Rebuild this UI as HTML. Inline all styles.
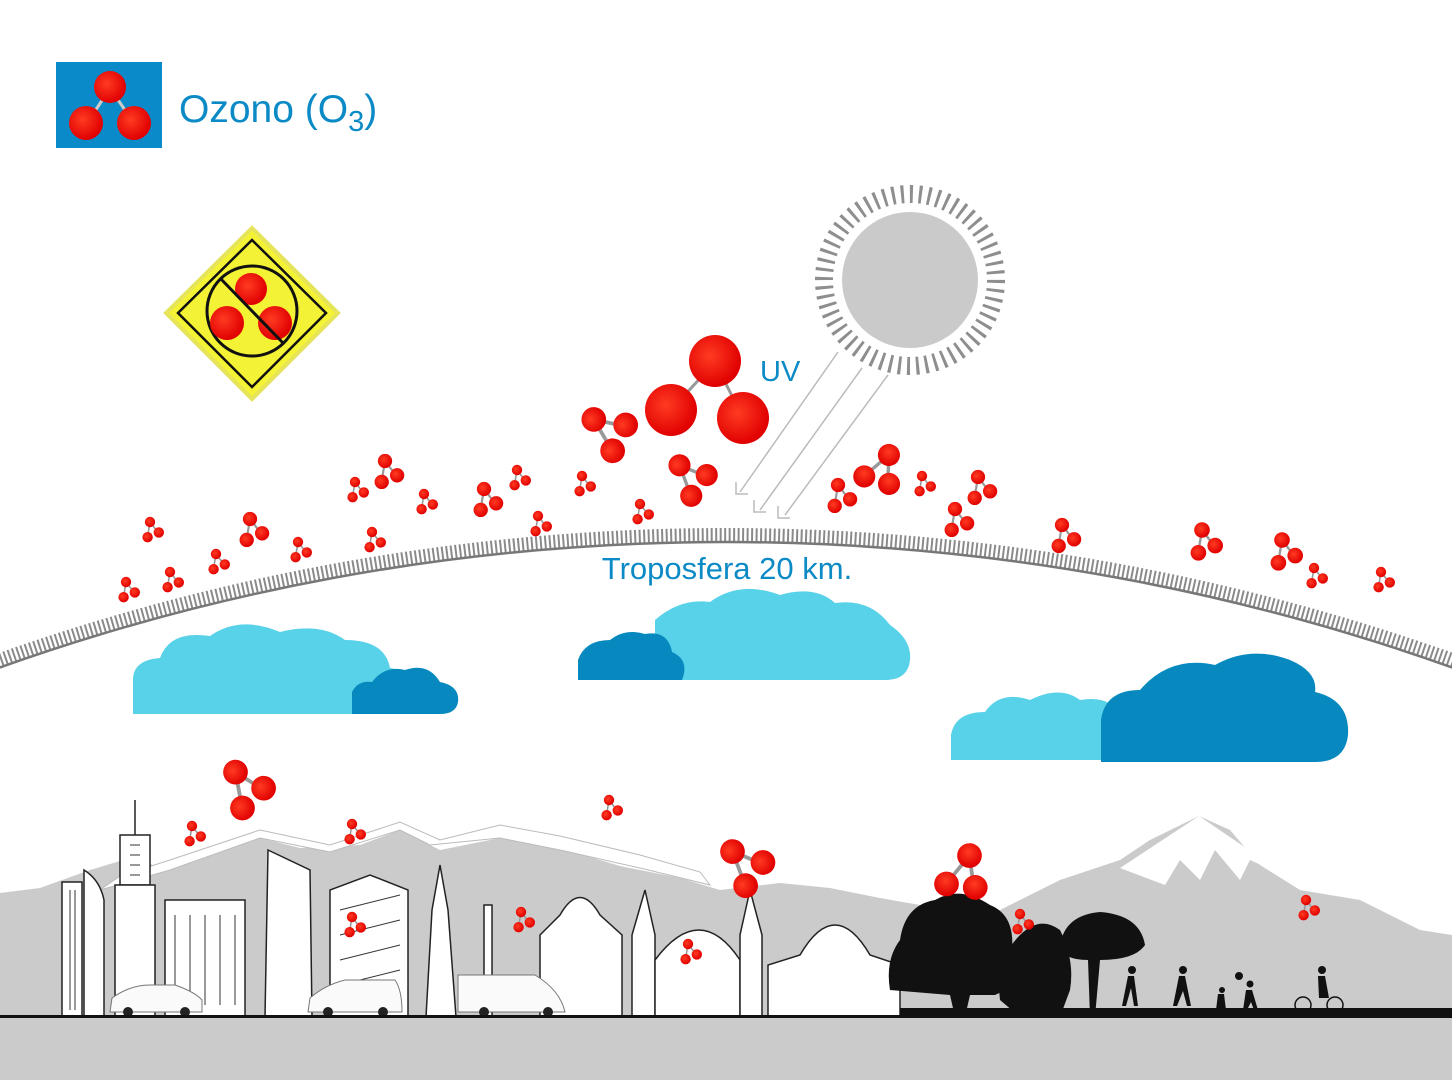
<!DOCTYPE html>
<html><head><meta charset="utf-8"><style>
html,body{margin:0;padding:0;background:#fff;width:1452px;height:1080px;overflow:hidden;}
svg{display:block}
text{font-family:"Liberation Sans","DejaVu Sans",sans-serif}
</style></head><body>
<svg width="1452" height="1080" viewBox="0 0 1452 1080" xmlns="http://www.w3.org/2000/svg">
<defs>
<radialGradient id="rg" cx="0.4" cy="0.4" r="0.6"><stop offset="0" stop-color="#ff3b22"/><stop offset="1" stop-color="#e00000"/></radialGradient>
<g id="m">
<line x1="0" y1="-10" x2="-3" y2="8" stroke="#999" stroke-width="2"/>
<line x1="0" y1="-10" x2="10" y2="3" stroke="#999" stroke-width="2"/>
<circle cx="0" cy="-10" r="6.5" fill="url(#rg)"/>
<circle cx="-3" cy="9" r="6.5" fill="url(#rg)"/>
<circle cx="11" cy="3" r="6.5" fill="url(#rg)"/>
</g>
</defs>

<!-- logo -->
<rect x="56" y="62" width="106" height="86" fill="#0a8ac8"/>
<line x1="110" y1="88" x2="88" y2="122" stroke="#ccc" stroke-width="3"/>
<line x1="110" y1="88" x2="133" y2="122" stroke="#ccc" stroke-width="3"/>
<circle cx="110" cy="87" r="16" fill="url(#rg)"/>
<circle cx="86" cy="123" r="17" fill="url(#rg)"/>
<circle cx="134" cy="123" r="17" fill="url(#rg)"/>
<text x="179" y="122" font-size="39" fill="#0b8ac6">Ozono (O<tspan font-size="29" dy="9">3</tspan><tspan dy="-9">)</tspan></text>

<!-- warning sign -->
<polygon points="252,228 338,313 252,399 166,313" fill="#f3f235" stroke="#e6e45a" stroke-width="4"/>
<polygon points="252,240 326,313 252,387 178,313" fill="none" stroke="#111" stroke-width="2.5"/>
<circle cx="252" cy="311" r="45" fill="none" stroke="#111" stroke-width="3"/>
<circle cx="251" cy="289" r="16" fill="url(#rg)"/>
<circle cx="227" cy="323" r="17" fill="url(#rg)"/>
<circle cx="275" cy="323" r="17" fill="url(#rg)"/>
<line x1="220" y1="278" x2="284" y2="344" stroke="#111" stroke-width="3"/>

<!-- sun -->
<circle cx="910" cy="280" r="68" fill="#cacaca"/>
<circle cx="910" cy="280" r="86" fill="none" stroke="#8e8e8e" stroke-width="18" stroke-dasharray="3 6"/>
<g fill="none" stroke="#bbb" stroke-width="1.5">
<path d="M838,352 L740,492"/>
<path d="M862,368 L760,510"/>
<path d="M888,375 L785,515"/>
<path d="M736,482 v12 h12 M754,500 v12 h12 M778,506 v12 h12"/>
</g>
<text x="760" y="381" font-size="29" fill="#0b8ac6">UV</text>

<!-- troposphere arc -->
<circle cx="726" cy="2706" r="2171" fill="none" stroke="#8a8a8a" stroke-width="14" stroke-dasharray="2 2.5"/>
<circle cx="726" cy="2706" r="2164" fill="none" stroke="#777" stroke-width="2.5"/>
<text x="727" y="579" font-size="31" fill="#0b8ac6" text-anchor="middle">Troposfera 20 km.</text>

<!-- clouds -->
<g fill="#58d2e8">
<path d="M133,714 L133,680 Q133,660 160,658 Q170,630 210,636 Q240,615 280,632 Q320,622 345,640 Q385,640 390,668 Q420,672 418,714 Z"/>
<path d="M655,680 L655,620 Q680,598 710,602 Q740,580 780,595 Q815,585 835,603 Q870,598 890,625 Q912,640 910,660 Q908,680 885,680 Z"/>
<path d="M951,760 L951,735 Q955,712 985,712 Q1000,690 1030,700 Q1060,685 1080,700 Q1110,695 1120,715 L1130,760 Z"/>
</g>
<g fill="#0789bf">
<path d="M352,714 L352,692 Q358,680 372,682 Q385,665 405,670 Q428,662 440,682 Q460,686 458,702 Q456,714 440,714 Z"/>
<path d="M578,680 L578,660 Q585,640 610,640 Q625,628 645,634 Q668,630 672,652 Q690,660 682,680 Z"/>
<path d="M1101,762 L1101,720 Q1105,690 1140,690 Q1170,655 1215,665 Q1250,645 1290,660 Q1318,672 1315,692 Q1350,700 1348,735 Q1345,762 1315,762 Z"/>
</g>

<!-- mountains -->
<path d="M0,893 L40,888 L90,870 L130,858 L170,870 L200,850 L260,838 L300,848 L360,845 L400,830 L440,850 L500,838 L560,848 L620,866 L680,878 L720,890 L780,883 L830,888 L880,898 L920,905 L1000,910 L1060,880 L1120,860 L1150,840 L1199,816 L1230,830 L1260,865 L1300,890 L1360,900 L1420,930 L1452,935 L1452,1017 L0,1017 Z" fill="#cbcbcb"/>
<path d="M1120,868 L1199,816 L1290,878 L1250,860 L1240,880 L1215,850 L1200,880 L1180,860 L1165,885 Z" fill="#fff"/>
<path d="M100,890 L170,870 L260,838 L330,852 L400,830 L430,845 L500,838 L560,850 L640,868 L710,885 L700,872 L640,855 L560,836 L500,825 L440,840 L400,822 L330,845 L260,830 L170,860 L120,876 Z" fill="#fff" stroke="#bbb" stroke-width="1"/>

<!-- buildings -->
<g fill="#fff" stroke="#222" stroke-width="1.5">
<rect x="62" y="882" width="20" height="135"/>
<path d="M84,1017 L84,870 Q100,880 104,900 L104,1017"/>
<rect x="120" y="835" width="30" height="50"/>
<rect x="115" y="885" width="40" height="132"/>
<line x1="135" y1="800" x2="135" y2="835"/>
<rect x="165" y="900" width="80" height="117"/>
<path d="M265,1017 L268,850 L310,870 L312,1017 Z"/>
<path d="M330,1017 L330,890 L370,875 L408,890 L408,1017 Z"/>
<path d="M426,1017 L432,910 L440,865 L448,910 L456,1017 Z"/>
<rect x="484" y="905" width="8" height="112"/>
<path d="M540,1017 L540,935 L560,915 Q580,880 600,915 L622,935 L622,1017 Z"/>
<path d="M632,1017 L632,935 L645,890 L655,935 L655,1017 Z"/>
<path d="M655,1017 L655,960 Q700,900 740,960 L740,1017 Z"/>
<path d="M740,1017 L740,935 L750,890 L762,935 L762,1017 Z"/>
<path d="M768,1017 L768,965 L800,955 Q835,895 870,955 L900,965 L900,1017 Z"/>
</g>
<g stroke="#333" stroke-width="1" fill="none">
<path d="M130,845 h10 M130,855 h10 M130,865 h10 M130,875 h10 M175,915 v90 M190,915 v90 M205,915 v90 M220,915 v90 M235,915 v90 M70,890 v120 M75,890 v120 M340,910 L400,895 M340,935 L400,920 M340,960 L400,945 M340,985 L400,970"/>
</g>
<!-- vehicles -->
<g fill="#fafafa" stroke="#777" stroke-width="1">
<path d="M110,1012 L112,998 Q130,985 150,985 L175,985 Q195,992 202,1000 L202,1012 Z"/>
<path d="M308,1012 L310,998 Q325,985 345,980 L395,980 Q402,990 402,1012 Z"/>
<path d="M458,1012 L458,975 L535,975 Q560,990 565,1012 Z"/>
</g>
<g fill="#222">
<circle cx="128" cy="1012" r="5"/><circle cx="185" cy="1012" r="5"/>
<circle cx="328" cy="1012" r="5"/><circle cx="383" cy="1012" r="5"/>
<circle cx="484" cy="1012" r="5"/><circle cx="548" cy="1012" r="5"/>
</g>
<!-- trees -->
<g fill="#111">
<path d="M890,990 Q885,960 900,940 Q905,905 935,900 Q960,885 990,905 Q1015,915 1012,950 Q1020,985 995,995 L970,995 L965,1017 L955,1017 L950,995 Z"/>
<path d="M1000,1000 Q995,960 1020,935 Q1040,915 1060,930 Q1075,960 1070,990 L1060,1017 L1020,1017 Z"/>
<path d="M1060,945 Q1065,915 1100,912 Q1140,915 1145,945 Q1135,960 1100,960 L1095,1017 L1090,1017 L1088,960 Q1062,960 1060,945 Z"/>
<rect x="900" y="1008" width="552" height="9"/>
<circle cx="1132" cy="970" r="4"/><path d="M1128,976 l6,0 l4,30 l-4,0 l-3,-18 l-5,18 l-4,0 Z"/>
<circle cx="1183" cy="970" r="4"/><path d="M1179,976 l6,0 l6,30 l-4,0 l-4,-15 l-6,15 l-4,0 Z"/>
<circle cx="1222" cy="990" r="3"/><path d="M1218,994 l6,0 l2,16 l-10,0 Z"/>
<circle cx="1239" cy="976" r="4"/><circle cx="1250" cy="984" r="3.5"/><path d="M1246,990 l6,0 l6,20 l-4,0 l-3,-8 l-4,8 l-4,0 Z"/>
<circle cx="1322" cy="970" r="4"/><path d="M1318,976 l7,0 l4,22 l-10,0 Z"/>
</g>
<g fill="none" stroke="#111" stroke-width="1.5"><circle cx="1303" cy="1005" r="8"/><circle cx="1335" cy="1005" r="8"/></g>

<!-- ground -->
<rect x="0" y="1017" width="1452" height="63" fill="#cbcbcb"/>
<rect x="0" y="1015" width="1452" height="3" fill="#111"/>

<!-- big molecule -->
<line x1="715" y1="362" x2="671" y2="410" stroke="#999" stroke-width="3"/>
<line x1="715" y1="362" x2="743" y2="418" stroke="#999" stroke-width="3"/>
<circle cx="715" cy="361" r="26" fill="url(#rg)"/>
<circle cx="671" cy="410" r="26" fill="url(#rg)"/>
<circle cx="743" cy="418" r="26" fill="url(#rg)"/>

<!-- molecules -->
<use href="#m" transform="translate(606,434) scale(1.9) rotate(-40)"/>
<use href="#m" transform="translate(688,480) scale(1.7) rotate(-30)"/>
<use href="#m" transform="translate(878,468) scale(1.7) rotate(40)"/>
<use href="#m" transform="translate(242,790) scale(1.9) rotate(-20)"/>
<use href="#m" transform="translate(742,868) scale(1.9) rotate(-30)"/>
<use href="#m" transform="translate(960,872) scale(1.9) rotate(30)"/>
<use href="#m" transform="translate(250,530) scale(1.1)"/>
<use href="#m" transform="translate(385,472) scale(1.1)"/>
<use href="#m" transform="translate(484,500) scale(1.1)"/>
<use href="#m" transform="translate(838,496) scale(1.1)"/>
<use href="#m" transform="translate(978,488) scale(1.1)"/>
<use href="#m" transform="translate(955,520) scale(1.1)"/>
<use href="#m" transform="translate(1062,536) scale(1.1)"/>
<use href="#m" transform="translate(1202,542) scale(1.2)"/>
<use href="#m" transform="translate(1282,552) scale(1.2)"/>
<use href="#m" transform="translate(150,530) scale(0.8)"/>
<use href="#m" transform="translate(355,490) scale(0.8)"/>
<use href="#m" transform="translate(424,502) scale(0.8)"/>
<use href="#m" transform="translate(517,478) scale(0.8)"/>
<use href="#m" transform="translate(582,484) scale(0.8)"/>
<use href="#m" transform="translate(640,512) scale(0.8)"/>
<use href="#m" transform="translate(538,524) scale(0.8)"/>
<use href="#m" transform="translate(372,540) scale(0.8)"/>
<use href="#m" transform="translate(298,550) scale(0.8)"/>
<use href="#m" transform="translate(216,562) scale(0.8)"/>
<use href="#m" transform="translate(170,580) scale(0.8)"/>
<use href="#m" transform="translate(126,590) scale(0.8)"/>
<use href="#m" transform="translate(922,484) scale(0.8)"/>
<use href="#m" transform="translate(1314,576) scale(0.8)"/>
<use href="#m" transform="translate(1381,580) scale(0.8)"/>
<use href="#m" transform="translate(192,834) scale(0.8)"/>
<use href="#m" transform="translate(352,832) scale(0.8)"/>
<use href="#m" transform="translate(609,808) scale(0.8)"/>
<use href="#m" transform="translate(521,920) scale(0.8)"/>
<use href="#m" transform="translate(352,925) scale(0.8)"/>
<use href="#m" transform="translate(688,952) scale(0.8)"/>
<use href="#m" transform="translate(1020,922) scale(0.8)"/>
<use href="#m" transform="translate(1306,908) scale(0.8)"/>
</svg>
</body></html>
